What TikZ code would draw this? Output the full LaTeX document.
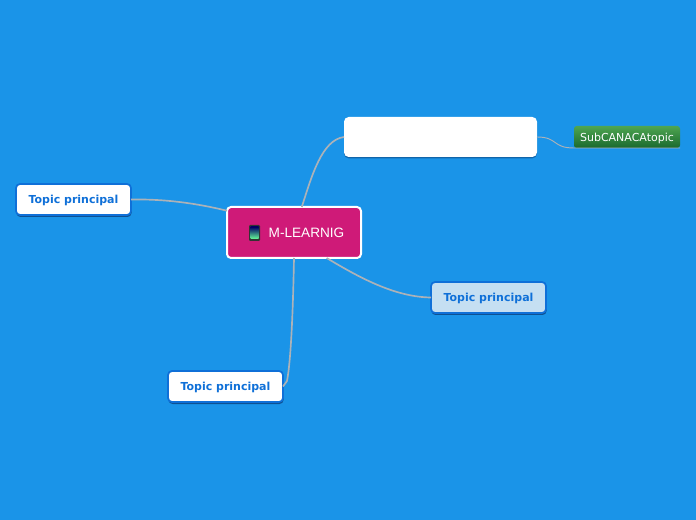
\documentclass[tikz,border=0pt]{standalone}
\usepackage{xcolor}
\usepackage{fontspec}
\setmainfont{DejaVu Sans}
\newfontfamily\rootfont{Liberation Sans}
\usetikzlibrary{positioning, shadows}
\definecolor{bgcolor}{RGB}{26,148,232}
\definecolor{rootcolor}{RGB}{207,26,120}
\definecolor{topiccolor}{RGB}{15,112,216}
\definecolor{activecolor}{RGB}{197,223,242}
\definecolor{linkcolor}{RGB}{172,178,184}
\definecolor{shadecolor}{RGB}{12,70,130}
\definecolor{subtop}{RGB}{78,165,80}
\definecolor{subbottom}{RGB}{26,105,46}

\begin{document}
\begin{tikzpicture}[x=0.75pt, y=-0.75pt,
  rootbox/.style={rectangle, rounded corners=3pt, minimum width=100.5pt,
              minimum height=38.25pt, fill=rootcolor, draw=white,
              line width=1.5pt, outer sep=0pt},
  topic/.style={rectangle, rounded corners=3pt, minimum width=86.25pt,
              minimum height=23.25pt, inner sep=0pt, outer sep=0pt,
              text height=6.2pt, text depth=0pt,
              font=\fontsize{8.25pt}{10pt}\selectfont\bfseries,
              fill=white, draw=topiccolor, line width=1.3pt, text=topiccolor,
              drop shadow={shadow xshift=0.4pt, shadow yshift=-1.5pt,
                           fill=shadecolor, opacity=0.85}},
  blankbox/.style={rectangle, rounded corners=3.5pt, minimum width=144.75pt,
              minimum height=30pt, inner sep=0pt, outer sep=0pt, fill=white,
              drop shadow={shadow xshift=0pt, shadow yshift=-1pt,
                           fill=shadecolor, opacity=0.6}},
  subbox/.style={rectangle, rounded corners=2pt, minimum width=79.5pt,
              minimum height=16.5pt, inner sep=0pt, outer sep=0pt,
              text height=6.2pt, text depth=0pt,
              top color=subtop, bottom color=subbottom, text=white,
              font=\fontsize{8.25pt}{10pt}\selectfont},
  link/.style={draw=linkcolor, line width=1.25pt},
  sublink/.style={draw=linkcolor, line width=0.7pt}
]

\fill[bgcolor] (0,0) rectangle (696,520);
\useasboundingbox (0,0) rectangle (696,520);

\node[rootbox] (root) at (294,232.5) {};
\node[inner sep=0pt, text=white, font=\rootfont\fontsize{10.2pt}{12pt}\selectfont]
  (roottext) at (306.5,232.5) {M-LEARNIG};

% phone icon
\node[rectangle, rounded corners=0.8pt, minimum width=8.25pt, minimum height=12pt,
      inner sep=0pt, fill=black!80] (phone) at (254.5,233) {};
\node[rectangle, minimum width=6pt, minimum height=9pt, inner sep=0pt,
      top color=blue!40!black, middle color=violet!70!blue, bottom color=cyan!60!yellow]
  (screen) at (phone.center) {};

\node[blankbox, above right=37.5pt and -12.75pt of root] (blank) {};
\node[subbox, right=27.75pt of blank] (sub) {SubCANACAtopic};
\node[topic, fill=activecolor, below right=18pt and 52.5pt of root]
  (right) {Topic principal};
\node[topic, below left=84.75pt and -42pt of root]
  (bottom) {Topic principal};
\node[topic, above left=-6pt and 72pt of root]
  (left) {Topic principal};

\draw[link] (root.73) .. controls (312,175) and (322,140) .. (blank.west);
\draw[link] (root.162) .. controls (195,203) and (165,199) .. (left.east);
\draw[link] (root.-38) .. controls (360,278) and (395,297) .. (right.west);
\draw[link] (root.south) .. controls (293,310) and (291,360) .. (287,381) -- (bottom.east);
\draw[sublink] (blank.east) .. controls (558,137) and (552,148) .. (sub.south west) -- (sub.south east);

\end{tikzpicture}
\end{document}
